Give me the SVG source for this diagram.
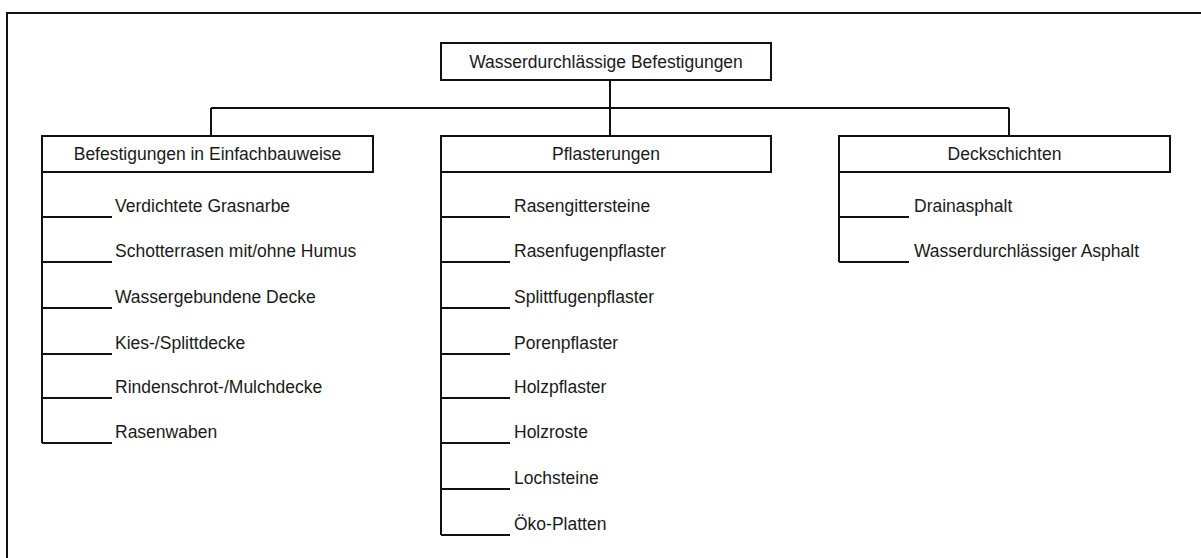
<svg xmlns="http://www.w3.org/2000/svg" width="1201" height="558" viewBox="0 0 1201 558">
<style>
.bx{fill:#fff;stroke:#111;stroke-width:2}
.ln{fill:none;stroke:#111;stroke-width:2}
.t{font-family:"Liberation Sans",Arial,sans-serif;font-size:17.5px;fill:#1a1a1a}
.c{text-anchor:middle}
</style>
<rect width="1201" height="558" fill="#fff"/>
<path class="ln" d="M7,560 V13 H1203"/>
<g id="connectors">
<path class="ln" d="M610,80 V108 M211,108 H1009 M211,108 V136 M610,108 V136 M1009,108 V136"/>
<path class="ln" d="M42,172 V443 M42,217 H112 M42,262 H112 M42,308 H112 M42,354 H112 M42,398 H112 M42,443 H112"/>
<path class="ln" d="M441,172 V535 M441,217 H510 M441,262 H510 M441,308 H510 M441,354 H510 M441,398 H510 M441,443 H510 M441,489 H510 M441,535 H510"/>
<path class="ln" d="M839,172 V262 M839,217 H909 M839,262 H909"/>
</g>
<g id="root"><rect class="bx" x="441" y="43" width="330" height="37"/><text class="t c" x="606" y="68">Wasserdurchlässige Befestigungen</text></g>
<g id="einfach"><rect class="bx" x="42" y="136" width="331" height="36"/><text class="t c" x="207.5" y="160">Befestigungen in Einfachbauweise</text></g>
<g id="pflaster"><rect class="bx" x="441" y="136" width="330" height="36"/><text class="t c" x="606" y="160">Pflasterungen</text></g>
<g id="deck"><rect class="bx" x="839" y="136" width="331" height="36"/><text class="t c" x="1004.5" y="160">Deckschichten</text></g>
<g id="e1"><text class="t" x="115" y="212">Verdichtete Grasnarbe</text></g>
<g id="e2"><text class="t" x="115" y="257">Schotterrasen mit/ohne Humus</text></g>
<g id="e3"><text class="t" x="115" y="303">Wassergebundene Decke</text></g>
<g id="e4"><text class="t" x="115" y="349">Kies-/Splittdecke</text></g>
<g id="e5"><text class="t" x="115" y="393">Rindenschrot-/Mulchdecke</text></g>
<g id="e6"><text class="t" x="115" y="438">Rasenwaben</text></g>
<g id="p1"><text class="t" x="514" y="212">Rasengittersteine</text></g>
<g id="p2"><text class="t" x="514" y="257">Rasenfugenpflaster</text></g>
<g id="p3"><text class="t" x="514" y="303">Splittfugenpflaster</text></g>
<g id="p4"><text class="t" x="514" y="349">Porenpflaster</text></g>
<g id="p5"><text class="t" x="514" y="393">Holzpflaster</text></g>
<g id="p6"><text class="t" x="514" y="438">Holzroste</text></g>
<g id="p7"><text class="t" x="514" y="484">Lochsteine</text></g>
<g id="p8"><text class="t" x="514" y="530">Öko-Platten</text></g>
<g id="d1"><text class="t" x="914" y="212">Drainasphalt</text></g>
<g id="d2"><text class="t" x="914" y="257">Wasserdurchlässiger Asphalt</text></g>
</svg>
